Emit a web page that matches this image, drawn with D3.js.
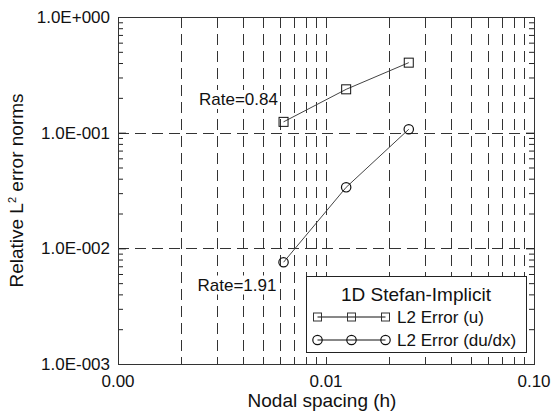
<!DOCTYPE html>
<html>
<head>
<meta charset="utf-8">
<script src="https://cdn.jsdelivr.net/npm/d3@7/dist/d3.min.js"></script>
<style>
  html, body { margin: 0; padding: 0; background: #fff; }
  svg { display: block; font-family: "Liberation Sans", Arial, sans-serif; }
</style>
</head>
<body>
<svg id="chart" width="551" height="412"></svg>
<script>
// Convergence data: nodal spacing vs relative L2 error norms
const spacing = [0.00625, 0.0125, 0.025];
const errU = [0.124, 0.237, 0.403];
const errDuDx = [0.00758, 0.0337, 0.107];

const seriesNames = ["L2 Error (u)", "L2 Error (du/dx)"];
const legendTitle = "1D Stefan-Implicit";
const rateLabels = ["Rate=0.84", "Rate=1.91"];

const xTickValues = [0.001, 0.01, 0.1];
const xTickLabels = ["0.00", "0.01", "0.10"];
const yTickValues = [0.001, 0.01, 0.1, 1];
const yTickLabels = ["1.0E-003", "1.0E-002", "1.0E-001", "1.0E+000"];

const W = 551, H = 412;
const m = { left: 118, right: 17, top: 17, bottom: 48 };
const pw = W - m.left - m.right, ph = H - m.top - m.bottom;

const svg = d3.select("#chart");
const g = svg.append("g").attr("transform", `translate(${m.left},${m.top})`);

const x = d3.scaleLog().domain([0.001, 0.1]).range([0, pw]);
const y = d3.scaleLog().domain([0.001, 1]).range([ph, 0]);

// minor positions (2..9 within each decade)
function minors(lo, hi) {
  const out = [];
  for (let d = lo; d < hi * 0.999; d *= 10)
    for (let k = 2; k <= 9; k++) out.push(d * k);
  return out;
}
const xMinor = minors(0.001, 0.1);
const yMinor = minors(0.001, 1);

const dash = "11,6";
const gridColor = "#333";

// vertical dashed grid at minor positions and the inner decade
const xGrid = xMinor.concat([0.01]);
g.append("g").selectAll("line").data(xGrid).join("line")
  .attr("x1", d => Math.round(x(d)) + 0.5).attr("x2", d => Math.round(x(d)) + 0.5)
  .attr("y1", 0).attr("y2", ph)
  .attr("stroke", gridColor).attr("stroke-width", 1).attr("stroke-dasharray", dash);

// horizontal dashed grid at inner decades
g.append("g").selectAll("line").data([0.01, 0.1]).join("line")
  .attr("y1", d => Math.round(y(d)) + 0.5).attr("y2", d => Math.round(y(d)) + 0.5)
  .attr("x1", 0).attr("x2", pw)
  .attr("stroke", gridColor).attr("stroke-width", 1).attr("stroke-dasharray", dash);

// inward ticks via d3 axes
function tickAxis(axisFn, scale, values, size, transform) {
  const a = g.append("g").attr("transform", transform)
    .call(axisFn(scale).tickValues(values).tickSizeInner(size).tickSizeOuter(0).tickFormat(""));
  a.select(".domain").remove();
  a.selectAll("line").attr("stroke", "#222");
  return a;
}
tickAxis(d3.axisLeft, y, yMinor, -5, "translate(0,0)");
tickAxis(d3.axisLeft, y, yTickValues, -8, "translate(0,0)");
tickAxis(d3.axisRight, y, yMinor, -5, `translate(${pw},0)`);
tickAxis(d3.axisRight, y, yTickValues, -8, `translate(${pw},0)`);

// plot frame
g.append("rect").attr("x", 0.5).attr("y", 0.5).attr("width", pw).attr("height", ph)
  .attr("fill", "none").attr("stroke", "#333").attr("stroke-width", 1);

// tick labels
g.append("g").selectAll("text").data(yTickValues).join("text")
  .attr("x", -8).attr("y", d => y(d)).attr("dy", "0.36em")
  .attr("text-anchor", "end").attr("font-size", 17).attr("fill", "#111")
  .text((d, i) => yTickLabels[i]);
g.append("g").selectAll("text").data(xTickValues).join("text")
  .attr("x", d => x(d)).attr("y", ph + 23)
  .attr("text-anchor", "middle").attr("font-size", 17).attr("fill", "#111")
  .text((d, i) => xTickLabels[i]);

// axis titles
svg.append("text").attr("x", m.left + pw / 2 - 4).attr("y", 407)
  .attr("text-anchor", "middle").attr("font-size", 19).attr("fill", "#111")
  .text("Nodal spacing (h)");
const yt = svg.append("text")
  .attr("transform", `translate(23,${m.top + ph / 2}) rotate(-90)`)
  .attr("text-anchor", "middle").attr("font-size", 19).attr("fill", "#111");
yt.append("tspan").text("Relative L");
yt.append("tspan").attr("font-size", 11).attr("dy", -7).text("2");
yt.append("tspan").attr("dy", 7).text(" error norms");

// series
const line = d3.line().x(d => x(d[0])).y(d => y(d[1]));
const dataU = spacing.map((h, i) => [h, errU[i]]);
const dataD = spacing.map((h, i) => [h, errDuDx[i]]);

g.append("path").datum(dataU).attr("d", line)
  .attr("fill", "none").attr("stroke", "#444").attr("stroke-width", 1);
g.append("path").datum(dataD).attr("d", line)
  .attr("fill", "none").attr("stroke", "#444").attr("stroke-width", 1);

const sq = 9, cr = 4.7;
g.append("g").selectAll("rect").data(dataU).join("rect")
  .attr("x", d => x(d[0]) - sq / 2).attr("y", d => y(d[1]) - sq / 2)
  .attr("width", sq).attr("height", sq)
  .attr("fill", "none").attr("stroke", "#111").attr("stroke-width", 1);
g.append("g").selectAll("circle").data(dataD).join("circle")
  .attr("cx", d => x(d[0])).attr("cy", d => y(d[1])).attr("r", cr)
  .attr("fill", "none").attr("stroke", "#111").attr("stroke-width", 1.2);

// rate annotations on a white backing
function note(tx, ty, label) {
  const t = svg.append("text").attr("x", tx).attr("y", ty).attr("font-size", 17).attr("fill", "#111")
    .text(label);
  const b = t.node().getBBox();
  svg.insert("rect", () => t.node())
    .attr("x", b.x - 1).attr("y", b.y).attr("width", b.width + 2).attr("height", b.height)
    .attr("fill", "#fff");
}
note(199, 105, rateLabels[0]);
note(197.5, 290.5, rateLabels[1]);

// legend
const lg = svg.append("g");
lg.append("rect").attr("x", 306.5).attr("y", 276.5).attr("width", 220).attr("height", 76)
  .attr("fill", "#fff").attr("stroke", "#222").attr("stroke-width", 1);
lg.append("text").attr("x", 416).attr("y", 301).attr("text-anchor", "middle")
  .attr("font-size", 19).attr("fill", "#111").text(legendTitle);
const rowsY = [317, 340];
const symX = [317.5, 351.5, 385.5];
rowsY.forEach((ry, i) => {
  lg.append("line").attr("x1", symX[0]).attr("x2", symX[2]).attr("y1", ry).attr("y2", ry)
    .attr("stroke", "#111").attr("stroke-width", 1);
  symX.forEach(sx => {
    if (i === 0) {
      lg.append("rect").attr("x", sx - 4).attr("y", ry - 4).attr("width", 8).attr("height", 8)
        .attr("fill", "none").attr("stroke", "#333").attr("stroke-width", 1);
    } else {
      lg.append("circle").attr("cx", sx).attr("cy", ry).attr("r", 4.7)
        .attr("fill", "none").attr("stroke", "#111").attr("stroke-width", 1.2);
    }
  });
  lg.append("text").attr("x", 397).attr("y", ry + 6).attr("font-size", 17).attr("fill", "#111")
    .text(seriesNames[i]);
});
</script>
</body>
</html>
